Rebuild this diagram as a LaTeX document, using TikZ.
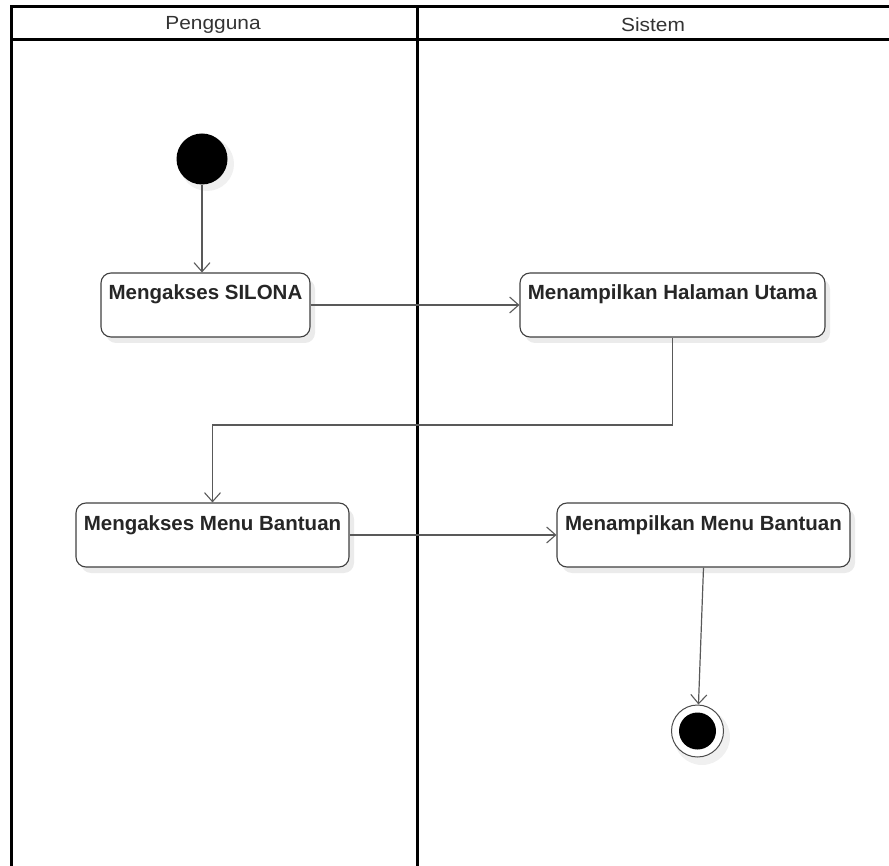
\documentclass[tikz,border=0pt]{standalone}
\usepackage{fontspec}
\setmainfont{Liberation Sans}
\newfontfamily\lanefont[FakeStretch=1.1]{Liberation Sans}
\usetikzlibrary{arrows.meta,shadows}
\begin{document}
\begin{tikzpicture}[x=1pt,y=-1pt,
  lane/.style={line width=3pt,black},
  actbox/.style={draw=black!75,line width=1.1pt,rounded corners=10pt,fill=white,
    inner xsep=0pt,inner ysep=0pt,text height=27pt,text depth=37pt,
    minimum height=64pt,font=\fontsize{20.5}{24}\selectfont\bfseries,text=black!85,
    general shadow={fill=black,opacity=0.08,shadow xshift=5pt,shadow yshift=-6pt}},
  flow/.style={draw=black!65,line width=1.2pt,-{Straight Barb[length=9pt,width=16pt,line width=1.1pt]}},
  lanetitle/.style={font=\lanefont\fontsize{19}{22}\selectfont,text=black!80}]
\useasboundingbox (0,0) rectangle (889,866);
% swimlane frame
\draw[lane] (889,7) -- (11,7) -- (11,870);
\draw[lane] (11,40) -- (889,40);
\draw[lane] (417,7) -- (417,870);
\node[lanetitle] (hUser) at (213,25) {Pengguna};
\node[lanetitle] (hSys) at (653,25) {Sistem};
% start / end
\fill[black,opacity=0.06] (207,164) circle (27);
\node[circle,fill=black,minimum size=51pt,inner sep=0pt] (start) at (202,159) {};
\fill[black,opacity=0.06] (702,737) circle (28);
\node[circle,draw=black!70,line width=1pt,fill=white,minimum size=52pt,inner sep=0pt] (stop) at (697.5,731) {};
\node[circle,fill=black,minimum size=37pt,inner sep=0pt] (stopdot) at (697.5,731) {};
% activities
\node[actbox,minimum width=209pt] (a1) at (205.5,305) {Mengakses SILONA};
\node[actbox,minimum width=305pt] (a2) at (672.5,305) {Menampilkan Halaman Utama};
\node[actbox,minimum width=273pt] (a3) at (212.5,535) {Mengakses Menu Bantuan};
\node[actbox,minimum width=293pt] (a4) at (703.5,535) {Menampilkan Menu Bantuan};
% transitions
\draw[flow] (start) -- (start |- a1.north);
\draw[flow] (a1.east) -- (a2.west);
\draw[flow] (a2.south) |- (a3.north |- 0,425) -- (a3.north);
\draw[flow] (a3.east) -- (a4.west);
\draw[flow] (a4.south) -- (stop);
\end{tikzpicture}
\end{document}
